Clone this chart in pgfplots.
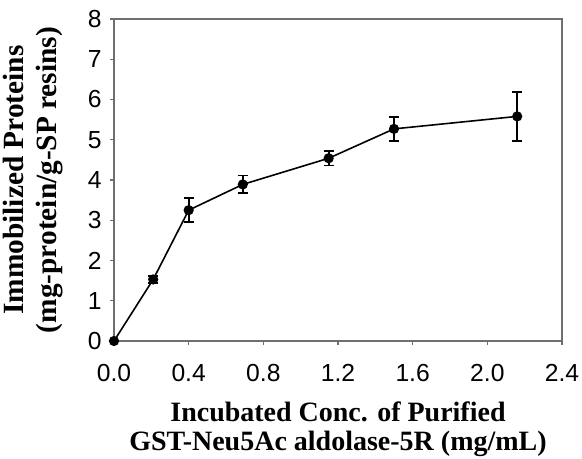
\documentclass[border=0pt]{standalone}
\usepackage{fontspec}
\setmainfont{Liberation Sans}
\newfontfamily\serf{Liberation Serif}
\usepackage{pgfplots}
\pgfplotsset{compat=1.18}
\definecolor{framegray}{RGB}{110,110,110}

\begin{document}
\begin{tikzpicture}
\begin{axis}[
    scale only axis,
    width=336pt, height=241.5pt,
    xmin=0, xmax=2.4, ymin=0, ymax=8,
    xtick={0,0.4,...,2.4}, ytick={0,1,...,8},
    /pgf/number format/assume math mode=true,
    xticklabel style={font=\fontsize{18.5}{22}\selectfont,
        /pgf/number format/fixed, /pgf/number format/precision=1,
        /pgf/number format/fixed zerofill, yshift=-11pt},
    yticklabel style={font=\fontsize{18.5}{22}\selectfont, xshift=-2.8pt},
    tick align=outside, major tick length=3pt,
    tick style={draw=framegray, line width=0.9pt},
    axis line style={draw=framegray, line width=1.2pt},
    xtick pos=bottom, ytick pos=left,
    clip=false,
    xlabel={Incubated Conc. of Purified\\GST-Neu5Ac aldolase-5R (mg/mL)},
    ylabel={Immobilized Proteins\\(mg-protein/g-SP resins)},
    xlabel style={font=\serf\bfseries\fontsize{21}{22}\selectfont, align=center,
        inner sep=0pt, at={(axis description cs:0.5,0)}, anchor=north, yshift=-45.5pt},
    ylabel style={font=\serf\bfseries\fontsize{22}{24.5}\selectfont, align=center,
        inner sep=0pt, at={(axis description cs:-0.113,0.5)}, rotate=0, anchor=south},
]
\addplot[black, line width=1.2pt, mark=*, mark size=3.2pt,
    error bars/.cd, y dir=both, y explicit,
    error bar style={black, line width=1.3pt},
    error mark options={black, rotate=90, mark size=3.8pt, line width=1.3pt}]
    coordinates {
    (0,0) +- (0,0)
    (0.21,1.53) +- (0,0.09)
    (0.4,3.25) +- (0,0.3)
    (0.69,3.89) +- (0,0.22)
    (1.15,4.54) +- (0,0.18)
    (1.5,5.27) +- (0,0.3)
    (2.16,5.58) +- (0,0.61)
};
\end{axis}
\pgfresetboundingbox
\path[use as bounding box] (-85.5pt,-88.5pt) rectangle (351pt,255.75pt);
\end{tikzpicture}
\end{document}
